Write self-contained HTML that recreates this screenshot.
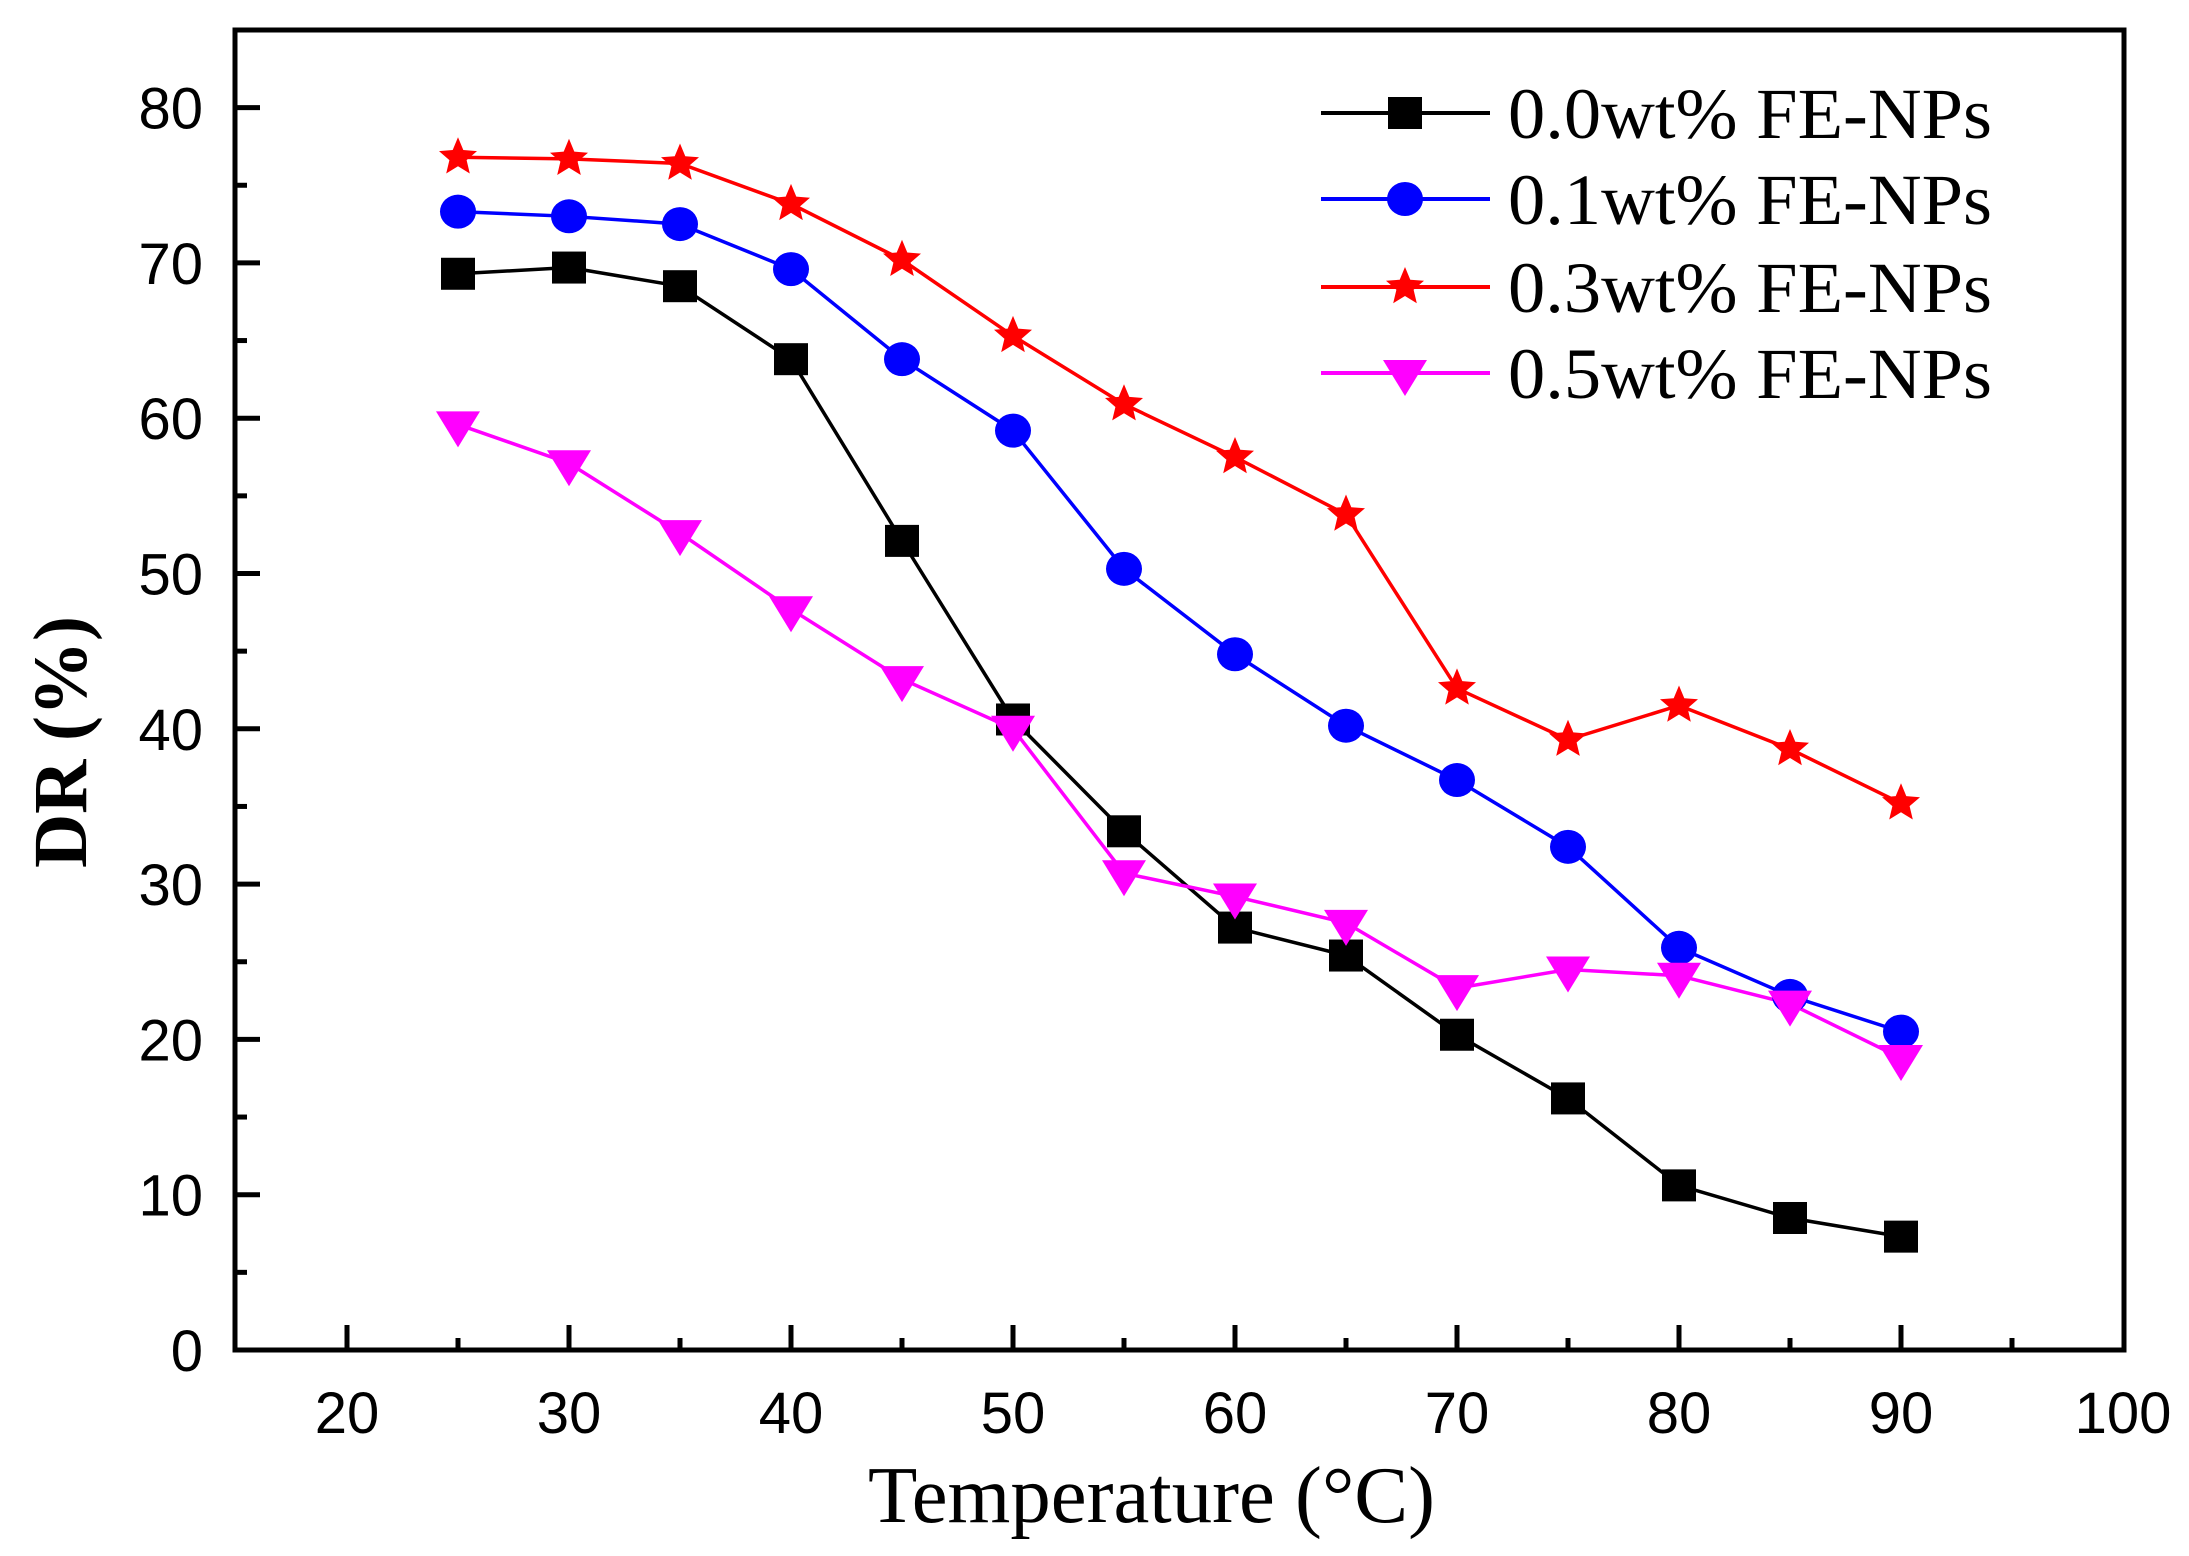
<!DOCTYPE html>
<html><head><meta charset="utf-8"><style>html,body{margin:0;padding:0;background:#fff}svg{display:block}</style></head>
<body>
<svg id="s" xmlns="http://www.w3.org/2000/svg" width="2189" height="1556" viewBox="0 0 2189 1556">
<rect width="2189" height="1556" fill="#fff"/>
<g id="plot"></g>
<rect x="235" y="30" width="1889" height="1320" fill="none" stroke="#000" stroke-width="5"/>
<g id="ticks" stroke="#000" stroke-width="5"></g>
<g id="labels" font-family="Liberation Sans, Arial, sans-serif" font-size="58" fill="#000"></g>
<text x="86" y="742" transform="rotate(-90 86 742)" text-anchor="middle" font-family="Liberation Serif, serif" font-weight="bold" font-size="76" textLength="252" lengthAdjust="spacingAndGlyphs">DR (%)</text>
<text x="868" y="1522" font-family="Liberation Serif, serif" font-size="80" textLength="567" lengthAdjust="spacingAndGlyphs">Temperature (°C)</text>
<g id="legend" font-family="Liberation Serif, serif" font-size="72"></g>
</svg>
<script>
const X=v=>347+(v-20)*22.2, Y=v=>1350-v*15.53;
const xs=[25,30,35,40,45,50,55,60,65,70,75,80,85,90];
const S=[
 {c:"#000",m:"sq",d:[69.3,69.7,68.5,63.8,52.1,40.6,33.4,27.2,25.4,20.3,16.2,10.6,8.5,7.3],n:"0.0wt% FE-NPs"},
 {c:"#0000ff",m:"ci",d:[73.3,73.0,72.5,69.6,63.8,59.2,50.3,44.8,40.2,36.7,32.4,25.9,22.8,20.5],n:"0.1wt% FE-NPs"},
 {c:"#ff0000",m:"st",d:[76.8,76.7,76.4,73.8,70.2,65.3,60.9,57.5,53.8,42.6,39.3,41.5,38.7,35.2],n:"0.3wt% FE-NPs"},
 {c:"#ff00ff",m:"tr",d:[59.6,57.1,52.6,47.7,43.2,40.0,30.7,29.2,27.5,23.3,24.5,24.1,22.3,18.8],n:"0.5wt% FE-NPs"}];
function mk(m,x,y,c){
 if(m=="sq")return `<rect x="${x-17}" y="${y-16}" width="34" height="32" fill="${c}"/>`;
 if(m=="ci")return `<ellipse cx="${x}" cy="${y}" rx="18" ry="17" fill="${c}"/>`;
 if(m=="tr")return `<polygon points="${x-22},${y-13} ${x+22},${y-13} ${x},${y+23}" fill="${c}"/>`;
 let p=[];for(let i=0;i<10;i++){let r=i%2?9:20,a=-Math.PI/2+i*Math.PI/5;p.push((x+r*Math.cos(a)).toFixed(1)+","+(y+r*Math.sin(a)).toFixed(1));}
 return `<polygon points="${p.join(" ")}" fill="${c}"/>`;
}
let h="";
S.forEach(s=>{h+=`<polyline fill="none" stroke="${s.c}" stroke-width="3.5" points="${s.d.map((v,i)=>X(xs[i])+","+Y(v)).join(" ")}"/>`;});
S.forEach(s=>{s.d.forEach((v,i)=>h+=mk(s.m,X(xs[i]),Y(v),s.c));});
document.getElementById("plot").innerHTML=h;
let t="",l="";
for(let v=20;v<=95;v+=5){let x=X(v);t+=`<line x1="${x}" y1="1350" x2="${x}" y2="${v%10?1338:1325}"/>`;}
for(let v=5;v<=80;v+=5){let y=Y(v);t+=`<line x1="235" y1="${y}" x2="${v%10?247:260}" y2="${y}"/>`;}
for(let v=20;v<=100;v+=10)l+=`<text x="${X(v)}" y="1433" text-anchor="middle">${v}</text>`;
for(let v=0;v<=80;v+=10)l+=`<text x="203" y="${Y(v)+21}" text-anchor="end">${v}</text>`;
document.getElementById("ticks").innerHTML=t;
document.getElementById("labels").innerHTML=l;
let g="";const ry=[113,199,287,373];
S.forEach((s,i)=>{let y=ry[i];g+=`<line x1="1321" y1="${y}" x2="1490" y2="${y}" stroke="${s.c}" stroke-width="4"/>`+mk(s.m,1405,y,s.c)+`<text x="1508" y="${y+25}" textLength="484" lengthAdjust="spacingAndGlyphs">${s.n}</text>`;});
document.getElementById("legend").innerHTML=g;
</script>
</body></html>
